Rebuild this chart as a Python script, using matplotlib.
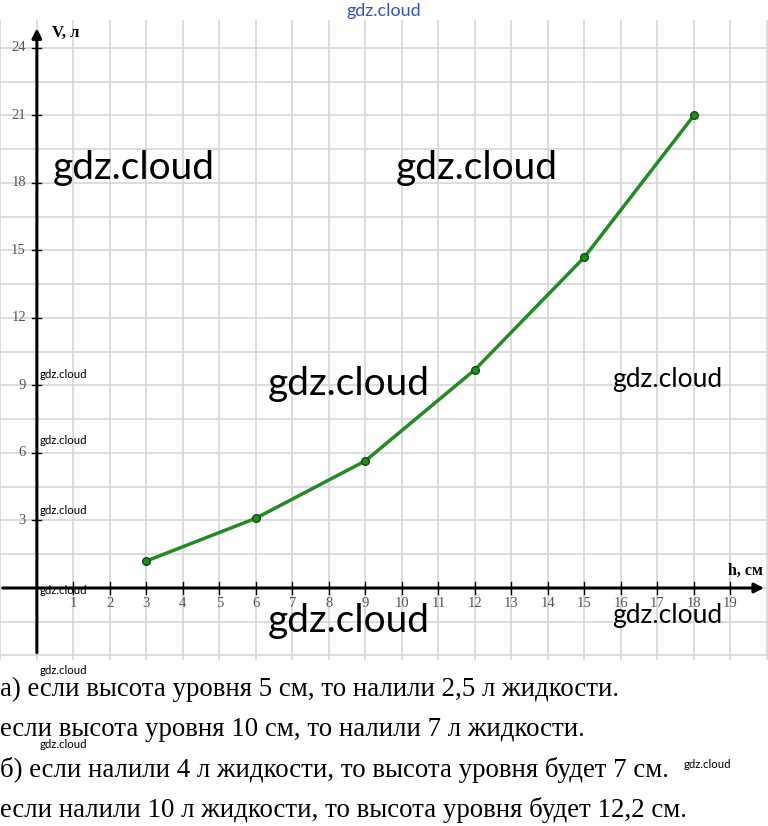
import numpy as np
import matplotlib.pyplot as plt

# points
h = [3, 6, 9, 12, 15, 18]
V = [1.2, 3.1, 5.65, 9.7, 14.7, 21.0]

x_ticks = list(range(1, 20))
y_ticks = [3, 6, 9, 12, 15, 18, 21, 24]

answers = [
    "а) если высота уровня 5 см, то налили 2,5 л жидкости.",
    "если высота уровня 10 см, то налили 7 л жидкости.",
    "б) если налили 4 л жидкости, то высота уровня будет 7 см.",
    "если налили 10 л жидкости, то высота уровня будет 12,2 см.",
]

fig = plt.figure(figsize=(7.68, 8.26), dpi=100)
ax = fig.add_axes([0, 1 - 660 / 826, 1, 640 / 826])
ax.set_xlim(-1.01, 20.03)
ax.set_ylim(-3.2, 25.24)
ax.axis('off')

# grid
for gx in np.arange(-1, 21, 1):
    ax.axvline(gx, color='#d6d6d6', lw=1.2, zorder=0)
for gy in np.arange(-3, 25.5, 1.5):
    ax.axhline(gy, color='#d6d6d6', lw=1.2, zorder=0)

# axes with arrows
ax.annotate('', xy=(20.0, 0), xytext=(-1.01, 0),
            arrowprops=dict(arrowstyle='-|>', lw=2.2, color='black', mutation_scale=14))
ax.annotate('', xy=(0, 25.0), xytext=(0, -3.0),
            arrowprops=dict(arrowstyle='-|>', lw=2.2, color='black', mutation_scale=14))

for t in x_ticks:
    ax.plot([t, t], [-0.25, 0.25], color='black', lw=1)
    ax.text(t, -0.4, str(t), ha='center', va='top', fontsize=10.5,
            family='Liberation Serif', color='#555555')
for t in y_ticks:
    ax.plot([-0.12, 0.12], [t, t], color='black', lw=1)
    ax.text(-0.3, t, str(t), ha='right', va='center', fontsize=10.5,
            family='Liberation Serif', color='#555555')

ax.text(0.78, 24.65, 'V, л', ha='center', va='center', fontsize=12,
        family='Liberation Serif', fontweight='bold')
ax.text(19.4, 0.75, 'h, см', ha='center', va='center', fontsize=11.5,
        family='Liberation Serif', fontweight='bold')

ax.plot(h, V, color='#228b22', lw=2.5, marker='o', markersize=5.5,
        markerfacecolor='#228b22', markeredgecolor='#0b4d0b', zorder=5)

# watermarks
wm = dict(family=['Lato', 'DejaVu Sans'], color='black', va='center', ha='left')
fig.text(384 / 768, 1 - 11 / 826, 'gdz.cloud', fontsize=13, family=['Lato', 'DejaVu Sans'],
         color='#3355cc', ha='center', va='center')
for px, py in [(53, 168), (396, 168), (268, 384), (268, 621)]:
    fig.text(px / 768, 1 - py / 826, 'gdz.cloud', fontsize=28, **wm)
for px, py in [(612, 380), (612, 616)]:
    fig.text(px / 768, 1 - py / 826, 'gdz.cloud', fontsize=19, **wm)
for px, py in [(40, 374), (40, 441), (40, 510), (40, 590), (40, 670), (40, 745), (684, 765)]:
    fig.text(px / 768, 1 - py / 826, 'gdz.cloud', fontsize=8.2, **wm)

for i, line in enumerate(answers):
    fig.text(0.0, 1 - (689 + 40.3 * i) / 826, line, fontsize=19.4,
             family='Liberation Serif', ha='left', va='center')

fig.savefig('out.png', dpi=100)
